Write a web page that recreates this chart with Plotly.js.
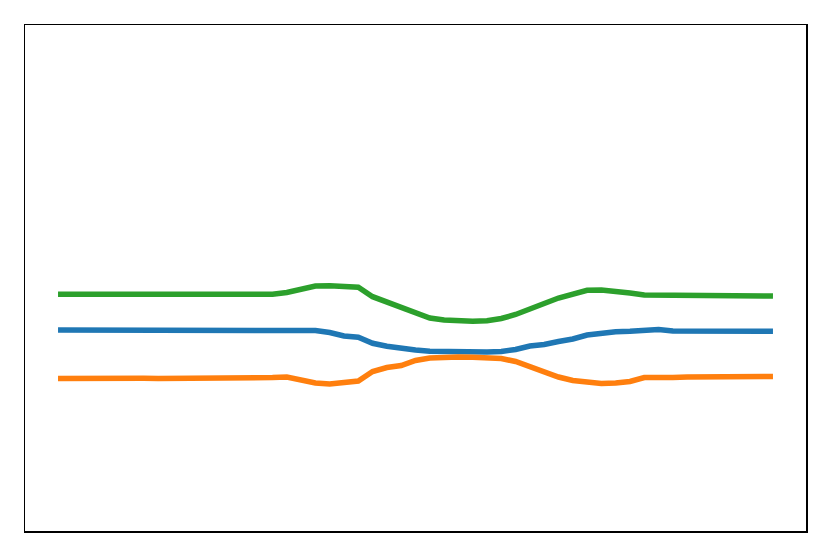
<!DOCTYPE html>
<html>
<head>
<meta charset="utf-8">
<script src="https://cdn.plot.ly/plotly-3.0.1.min.js"></script>
<style>html,body{margin:0;padding:0;background:#fff;}#chart{width:831px;height:557px;}</style>
</head>
<body>
<div id="chart"></div>
<script>
const xs = [0,1,2,3,4,5,6,7,8,9,10,11,12,13,14,15,16,17,18,19,20,21,22,23,24,25,26,27,28,29,30,31,32,33,34,35,36,37,38,39,40,41,42,43,44,45,46,47,48,49,50];

const seriesBlue = [20.10,20.10,20.12,20.10,20.08,20.08,20.10,20.10,20.10,20.05,20.00,20.05,20.07,20.05,20.05,20.08,20.05,20.00,20.05,19.85,19.50,19.37,18.77,18.47,18.25,18.10,17.97,17.92,17.90,17.90,17.90,17.95,18.15,18.50,18.65,18.95,19.20,19.60,19.80,19.93,19.97,20.00,20.15,20.00,20.00,20.00,20.00,20.00,19.98,19.98,19.98];

const seriesOrange = [15.25,15.27,15.27,15.27,15.25,15.25,15.27,15.25,15.25,15.30,15.25,15.25,15.30,15.32,15.37,15.35,15.40,15.10,14.80,14.70,14.90,15.00,15.95,16.35,16.55,17.05,17.30,17.37,17.40,17.37,17.35,17.25,16.95,16.45,15.95,15.40,15.05,14.85,14.75,14.80,14.95,15.35,15.32,15.35,15.40,15.40,15.38,15.38,15.42,15.42,15.45];

const seriesGreen = [23.67,23.67,23.70,23.65,23.60,23.60,23.67,23.72,23.65,23.60,23.60,23.65,23.60,23.65,23.65,23.68,23.85,24.15,24.50,24.53,24.45,24.37,23.43,22.90,22.35,21.80,21.30,21.10,21.00,20.97,21.02,21.25,21.65,22.15,22.75,23.30,23.75,24.07,24.10,24.00,23.80,23.60,23.60,23.57,23.60,23.58,23.58,23.57,23.55,23.50,23.50];

const mk = (y, c) => ({x: xs, y: y, type: 'scatter', mode: 'lines', line: {color: c, width: 5.5}, hoverinfo: 'skip'});
const data = [mk(seriesBlue, '#1f77b4'), mk(seriesOrange, '#ff7f0e'), mk(seriesGreen, '#2ca02c')];

const axisBase = {showline: true, mirror: true, linecolor: '#000', linewidth: 1.5, showgrid: false, zeroline: false, showticklabels: false, ticks: ''};
const layout = {
  width: 831, height: 557,
  margin: {l: 25, r: 25, t: 25, b: 26, pad: 0},
  paper_bgcolor: '#fff', plot_bgcolor: '#fff',
  showlegend: false,
  xaxis: Object.assign({range: [-2.31, 52.31]}, axisBase),
  yaxis: Object.assign({range: [0, 50.6]}, axisBase)
};
Plotly.newPlot('chart', data, layout, {staticPlot: true, displayModeBar: false});
</script>
</body>
</html>
